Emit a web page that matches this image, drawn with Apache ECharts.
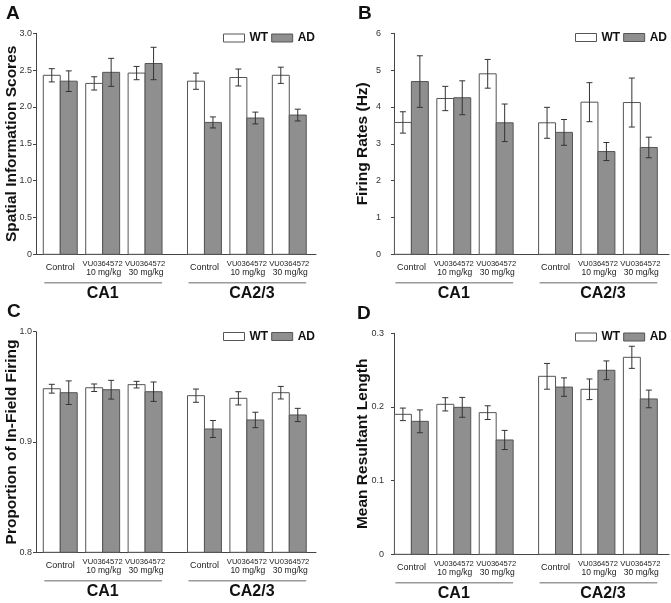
<!DOCTYPE html>
<html><head><meta charset="utf-8">
<script src="https://cdn.jsdelivr.net/npm/echarts@6/dist/echarts.min.js"></script>
<style>html,body{margin:0;padding:0;background:#fff}#c{width:671px;height:603px}</style>
</head><body><div id="c"></div>
<script>
// ---- data ----
const drugs = ['Control', 'VU0364572', 'VU0364572', 'Control', 'VU0364572', 'VU0364572'];
const doses = ['', '10 mg/kg', '30 mg/kg', '', '10 mg/kg', '30 mg/kg'];
const regions = ['CA1', 'CA2/3'];
const groupNames = ['WT', 'AD'];

// A: Spatial information scores
const wtA    = [2.43, 2.32, 2.46, 2.35, 2.40, 2.43];
const wtAErr = [0.09, 0.09, 0.09, 0.11, 0.115, 0.11];
const adA    = [2.35, 2.47, 2.59, 1.79, 1.85, 1.89];
const adAErr = [0.14, 0.19, 0.22, 0.075, 0.08, 0.08];
const ticksA = [0, 0.5, 1.0, 1.5, 2.0, 2.5, 3.0];

// B: Firing rates (Hz)
const wtB    = [3.58, 4.23, 4.90, 3.57, 4.13, 4.12];
const wtBErr = [0.29, 0.33, 0.39, 0.42, 0.53, 0.665];
const adB    = [4.69, 4.25, 3.57, 3.31, 2.79, 2.90];
const adBErr = [0.70, 0.46, 0.51, 0.35, 0.245, 0.28];
const ticksB = [0, 1, 2, 3, 4, 5, 6];

// C: Proportion of in-field firing
const wtC    = [0.9483, 0.9492, 0.9520, 0.9420, 0.9396, 0.9447];
const wtCErr = [0.004, 0.0034, 0.003, 0.006, 0.006, 0.0057];
const adC    = [0.9447, 0.9474, 0.9456, 0.9118, 0.9200, 0.9245];
const adCErr = [0.0107, 0.0085, 0.0088, 0.0077, 0.007, 0.006];
const ticksC = [0.8, 0.9, 1.0];

// D: Mean resultant length
const wtD    = [0.190, 0.2036, 0.1923, 0.2416, 0.224, 0.2674];
const wtDErr = [0.0085, 0.009, 0.0093, 0.0175, 0.014, 0.015];
const adD    = [0.1805, 0.1995, 0.1552, 0.227, 0.2498, 0.2109];
const adDErr = [0.0155, 0.0135, 0.013, 0.0125, 0.0127, 0.012];
const ticksD = [0, 0.1, 0.2, 0.3];

// ---- layout ----
const FONT = '"Liberation Sans", Arial, Helvetica, sans-serif';
const catPos = i => i + (i >= 3 ? 0.4 : 0);
const fmt1 = v => (v === 0 ? '0' : v.toFixed(1));

const panels = [
  {letter:'A', lx:6, ly:14, left:36, top:33.3, width:280, height:221, xMin:-0.572, xMax:6.03,
   ticks:ticksA, name:'Spatial Information Scores', nameGap:16, margin:4, fmt:fmt1,
   wt:wtA, wtErr:wtAErr, ad:adA, adErr:adAErr, legLeft:223, legTop:32},
  {letter:'B', lx:358, ly:13.5, left:394, top:33.3, width:275, height:221, xMin:-0.41, xMax:6.076,
   ticks:ticksB, name:'Firing Rates (Hz)', nameGap:23, margin:13, fmt:v => String(v),
   wt:wtB, wtErr:wtBErr, ad:adB, adErr:adBErr, legLeft:575, legTop:31.5},
  {letter:'C', lx:7, ly:311.5, left:36, top:331.7, width:280, height:220.6, xMin:-0.572, xMax:6.03,
   ticks:ticksC, name:'Proportion of In-Field Firing', nameGap:16, margin:4, fmt:v => v.toFixed(1),
   wt:wtC, wtErr:wtCErr, ad:adC, adErr:adCErr, legLeft:223, legTop:330.5},
  {letter:'D', lx:357, ly:313.5, left:394, top:333.3, width:275, height:221, xMin:-0.41, xMax:6.076,
   ticks:ticksD, name:'Mean Resultant Length', nameGap:23, margin:10, fmt:v => (v === 0 ? '0' : v.toFixed(1)),
   wt:wtD, wtErr:wtDErr, ad:adD, adErr:adDErr, legLeft:575, legTop:331}
];

const BAR_HALF = 0.2;
const FILL = {WT:'#ffffff', AD:'#8f8f8f'};
const EDGE = '#555';

function barRenderer(offset, fill, yMin) {
  return function (params, api) {
    const x = api.value(0), m = api.value(1), s = api.value(2);
    const pL = api.coord([x + offset - BAR_HALF, m]);
    const pR = api.coord([x + offset + BAR_HALF, yMin]);
    const cx = api.coord([x + offset, m])[0];
    const yHi = api.coord([x, m + s])[1];
    const yLo = api.coord([x, m - s])[1];
    const cap = 3;
    return {
      type: 'group',
      children: [
        {type:'rect', shape:{x:pL[0], y:pL[1], width:pR[0]-pL[0], height:pR[1]-pL[1]},
         style:{fill:fill, stroke:EDGE, lineWidth:1}},
        {type:'line', shape:{x1:cx, y1:yHi, x2:cx, y2:yLo}, style:{stroke:'#333', lineWidth:1}},
        {type:'line', shape:{x1:cx-cap, y1:yHi, x2:cx+cap, y2:yHi}, style:{stroke:'#333', lineWidth:1}},
        {type:'line', shape:{x1:cx-cap, y1:yLo, x2:cx+cap, y2:yLo}, style:{stroke:'#333', lineWidth:1}}
      ]
    };
  };
}

function catLabelRenderer(params, api) {
  const i = api.value(2);
  const p = api.coord([api.value(0), api.value(1)]);
  const children = [];
  if (!doses[i]) {
    children.push({type:'text', x:p[0], y:p[1] + 13,
      style:{text:drugs[i], fontFamily:FONT, fontSize:9, fill:'#222', align:'center', verticalAlign:'middle'}});
  } else {
    children.push({type:'text', x:p[0], y:p[1] + 10,
      style:{text:drugs[i], fontFamily:FONT, fontSize:7.6, fill:'#222', align:'center', verticalAlign:'middle'}});
    children.push({type:'text', x:p[0] + 1, y:p[1] + 18,
      style:{text:doses[i], fontFamily:FONT, fontSize:8.5, fill:'#222', align:'center', verticalAlign:'middle'}});
  }
  return {type:'group', children};
}

function regionRenderer(params, api) {
  const r = api.value(2);
  const y0 = api.value(1);
  const a = api.coord([catPos(3 * r) - 2 * BAR_HALF, y0]);
  const b = api.coord([catPos(3 * r + 2) + 2 * BAR_HALF, y0]);
  const mid = (a[0] + b[0]) / 2 + (r === 1 ? 5 : 0);
  return {type:'group', children:[
    {type:'line', shape:{x1:a[0] + 1, y1:a[1] + 28.5, x2:b[0], y2:a[1] + 28.5}, style:{stroke:'#9a9a9a', lineWidth:1.6}},
    {type:'text', x:mid, y:a[1] + 39,
     style:{text:regions[r], fontFamily:FONT, fontSize:16, fontWeight:'bold', fill:'#111', align:'center', verticalAlign:'middle'}}
  ]};
}

const grid = [], xAxis = [], yAxis = [], series = [], legend = [], graphic = [];
panels.forEach((p, gi) => {
  const yMin = p.ticks[0], yMax = p.ticks[p.ticks.length - 1];
  const interval = +(p.ticks[1] - p.ticks[0]).toFixed(6);
  grid.push({left:p.left, top:p.top, width:p.width, height:p.height, containLabel:false});
  xAxis.push({gridIndex:gi, type:'value', min:p.xMin, max:p.xMax,
    axisLine:{show:true, onZero:false, lineStyle:{color:'#444', width:1}},
    axisTick:{show:false}, axisLabel:{show:false}, splitLine:{show:false}});
  yAxis.push({gridIndex:gi, type:'value', min:yMin, max:yMax, interval:interval,
    name:p.name, nameLocation:'middle', nameGap:p.nameGap, nameMoveOverlap:false,
    nameTextStyle:{fontFamily:FONT, fontSize:15.5, fontWeight:'bold', color:'#111'},
    axisLine:{show:true, onZero:false, lineStyle:{color:'#444', width:1}},
    axisTick:{show:true, length:3, lineStyle:{color:'#444', width:1}},
    axisLabel:{fontFamily:FONT, fontSize:9, color:'#333', margin:p.margin, formatter:p.fmt},
    splitLine:{show:false}});
  [['WT', p.wt, p.wtErr, -BAR_HALF], ['AD', p.ad, p.adErr, BAR_HALF]].forEach(([name, vals, errs, off]) => {
    series.push({type:'custom', name:name, xAxisIndex:gi, yAxisIndex:gi,
      itemStyle:{color:FILL[name], borderColor:EDGE, borderWidth:1},
      renderItem:barRenderer(off, FILL[name], yMin),
      encode:{x:0, y:1},
      data:vals.map((v, i) => [catPos(i), v, errs[i]])});
  });
  series.push({type:'custom', name:'labels' + gi, xAxisIndex:gi, yAxisIndex:gi, clip:false, silent:true,
    renderItem:catLabelRenderer, encode:{x:0, y:1},
    data:drugs.map((d, i) => [catPos(i), yMin, i])});
  series.push({type:'custom', name:'regions' + gi, xAxisIndex:gi, yAxisIndex:gi, clip:false, silent:true,
    renderItem:regionRenderer, encode:{x:0, y:1},
    data:regions.map((r, i) => [catPos(3 * i + 1), yMin, i])});
  legend.push({left:p.legLeft, top:p.legTop, orient:'horizontal', icon:'rect',
    itemWidth:21, itemHeight:8, itemGap:3, selectedMode:false, padding:0,
    textStyle:{fontFamily:FONT, fontSize:12, fontWeight:'bold', color:'#111'},
    data:groupNames.map(n => ({name:n, itemStyle:{color:FILL[n], borderColor:EDGE, borderWidth:1}}))});
  graphic.push({type:'text', x:p.lx, y:p.ly,
    style:{text:p.letter, fontFamily:FONT, fontSize:19, fontWeight:'bold', fill:'#111', verticalAlign:'middle'}});
});

const chart = echarts.init(document.getElementById('c'), null, {renderer:'canvas'});
chart.setOption({
  backgroundColor:'#fff', animation:false,
  textStyle:{fontFamily:FONT},
  grid, xAxis, yAxis, series, legend, graphic
});
</script>
</body></html>
